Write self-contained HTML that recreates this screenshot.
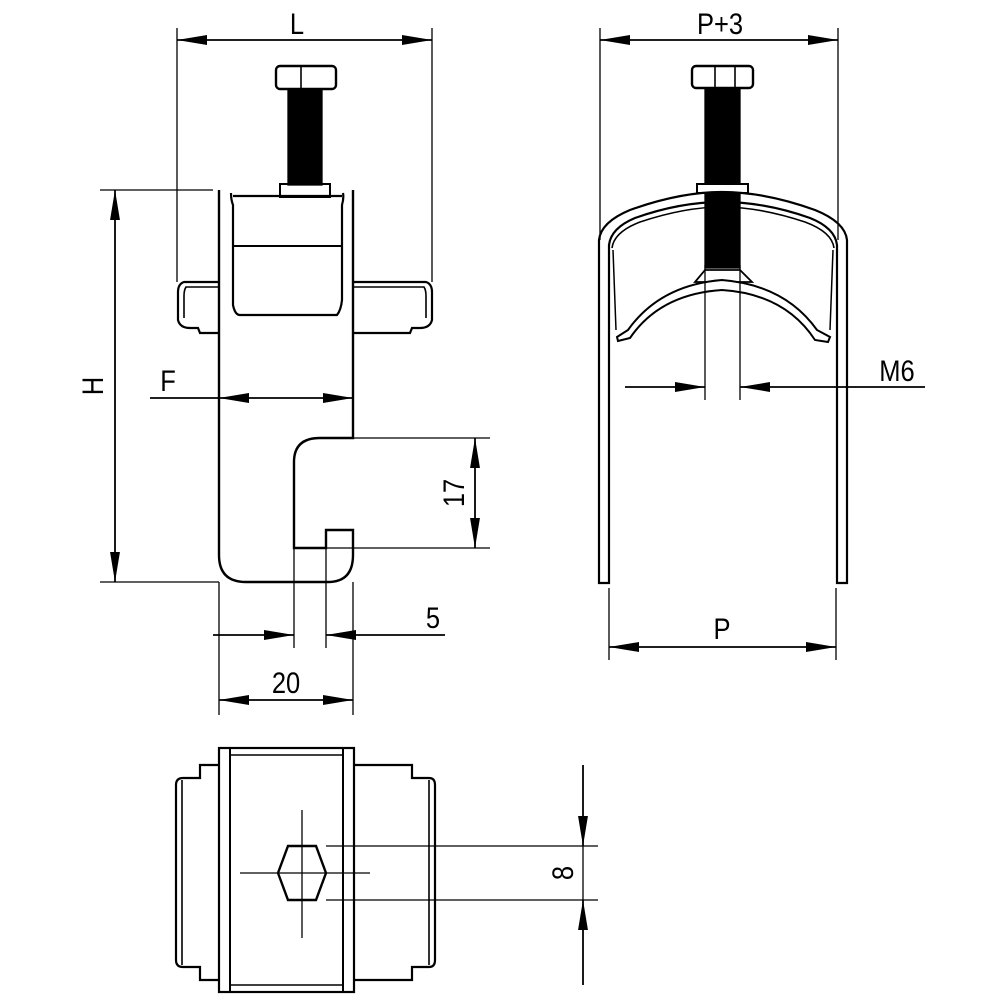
<!DOCTYPE html>
<html><head><meta charset="utf-8"><style>html,body{margin:0;padding:0;background:#fff}svg{display:block}</style></head><body>
<svg width="1000" height="1000" viewBox="0 0 1000 1000" xmlns="http://www.w3.org/2000/svg" font-family="Liberation Sans, sans-serif">
<defs>
<marker id="a" viewBox="0 0 30 10" refX="30" refY="5" markerWidth="30" markerHeight="11" markerUnits="userSpaceOnUse" orient="auto-start-reverse" preserveAspectRatio="none"><path d="M0,0.5 L30,5 L0,9.5z" fill="#000"/></marker>
</defs>
<g fill="none" stroke="#000" stroke-width="1.3">
<line x1="177" y1="28" x2="177" y2="282"/><line x1="432" y1="28" x2="432" y2="282"/>
<line x1="177" y1="40" x2="432" y2="40" marker-start="url(#a)" marker-end="url(#a)" stroke-width="1.8"/>
<rect x="276" y="66" width="60" height="23" rx="4" stroke-width="2.4"/>
<line x1="301" y1="66" x2="301" y2="89" stroke-width="1.6"/>
<rect x="288" y="89" width="34" height="96" fill="#000"/>
<rect x="280" y="184" width="50" height="13" stroke-width="2"/>
<path d="M219,190 L219,555 Q219,582 246,582 L328,582 Q353,582 353,555 L353,530 L326,530 L326,548 L294,548 L294,462 Q294,438 320,438 L353,438 L353,190" stroke-width="2.4"/>
<path d="M231,193 Q231,200 233,205 L233,305 Q235,315 240,315 L337,315 Q341,310 342,300 L342,205 Q344,198 343,193" stroke-width="2.2"/>
<line x1="233" y1="196" x2="342" y2="196" stroke-width="2.2"/>
<line x1="233" y1="246" x2="342" y2="246" stroke-width="2"/>
<path d="M219,282 L184,282 Q178,284 178,292 L178,320 Q180,328 190,328 L198,328 L200,333 L219,333" stroke-width="2.2"/>
<path d="M219,287 L186,287 Q184,290 184,296 L184,318" stroke-width="1.6"/>
<path d="M353,282 L426,282 Q432,284 432,292 L432,320 Q430,328 420,328 L412,328 L410,333 L353,333" stroke-width="2.2"/>
<path d="M353,287 L424,287 Q426,290 426,296 L426,318" stroke-width="1.6"/>
<line x1="100" y1="190" x2="213" y2="190"/><line x1="100" y1="582" x2="219" y2="582"/>
<line x1="115" y1="190" x2="115" y2="582" marker-start="url(#a)" marker-end="url(#a)" stroke-width="1.8"/>
<line x1="150" y1="398" x2="219" y2="398" stroke-width="1.8"/>
<line x1="219" y1="398" x2="353" y2="398" marker-start="url(#a)" marker-end="url(#a)" stroke-width="1.8"/>
<line x1="353" y1="438" x2="490" y2="438"/><line x1="326" y1="548" x2="490" y2="548"/>
<line x1="475" y1="438" x2="475" y2="548" marker-start="url(#a)" marker-end="url(#a)" stroke-width="1.8"/>
<line x1="294" y1="548" x2="294" y2="648"/><line x1="326" y1="548" x2="326" y2="648"/>
<line x1="213" y1="635" x2="294" y2="635" marker-end="url(#a)" stroke-width="1.8"/>
<line x1="445" y1="635" x2="326" y2="635" marker-end="url(#a)" stroke-width="1.8"/>
<line x1="219" y1="582" x2="219" y2="715"/><line x1="353" y1="582" x2="353" y2="715"/>
<line x1="219" y1="700" x2="353" y2="700" marker-start="url(#a)" marker-end="url(#a)" stroke-width="1.8"/>

<line x1="600" y1="28" x2="600" y2="240"/><line x1="838" y1="28" x2="838" y2="240"/>
<line x1="600" y1="40" x2="838" y2="40" marker-start="url(#a)" marker-end="url(#a)" stroke-width="1.8"/>
<rect x="692" y="66" width="61" height="22" rx="4" stroke-width="2.4"/>
<line x1="715" y1="66" x2="715" y2="88" stroke-width="1.6"/><line x1="735" y1="66" x2="735" y2="88" stroke-width="1.6"/>
<rect x="705" y="88" width="35" height="180" fill="#000"/>
<rect x="697" y="184" width="51" height="9" fill="#fff" stroke-width="2"/>
<path d="M599,583 L599,240 Q601,222 630,210 Q680,192 722,192 Q765,192 815,210 Q845,222 847,240 L847,583 L837,583 L837,245 Q835,228 810,218 Q765,202 722,202 Q680,202 635,218 Q611,228 609,245 L609,583 Z" stroke-width="2.2"/>
<path d="M612,248 Q614,232 640,222 Q685,207 722,207 Q760,207 805,222 Q832,232 834,248" stroke-width="1.6"/>
<line x1="613" y1="250" x2="616" y2="330" stroke-width="1.5"/><line x1="833" y1="250" x2="830" y2="330" stroke-width="1.5"/>
<path d="M705,270 L740,270 L752,282 L695,282 Z" stroke-width="1.8" fill="#fff"/>
<path d="M617,337 L628,330 Q660,285 722,280 Q785,285 817,330 L830,337 L828,342 L815,340 Q785,294 722,290 Q660,294 630,338 L618,341 Z" stroke-width="2" fill="#fff"/>
<line x1="705" y1="265" x2="705" y2="400"/><line x1="740" y1="265" x2="740" y2="400"/>
<line x1="625" y1="387" x2="705" y2="387" marker-end="url(#a)" stroke-width="1.8"/>
<line x1="925" y1="387" x2="740" y2="387" marker-end="url(#a)" stroke-width="1.8"/>
<line x1="609" y1="588" x2="609" y2="660"/><line x1="836" y1="588" x2="836" y2="660"/>
<line x1="609" y1="647" x2="836" y2="647" marker-start="url(#a)" marker-end="url(#a)" stroke-width="1.8"/>

<rect x="219" y="748" width="135" height="244" stroke-width="2.2"/>
<line x1="230" y1="748" x2="230" y2="992" stroke-width="2"/><line x1="343" y1="748" x2="343" y2="992" stroke-width="2"/>
<line x1="230" y1="755" x2="343" y2="755" stroke-width="1.6"/><line x1="230" y1="985" x2="343" y2="985" stroke-width="1.6"/>
<path d="M219,765 L200,765 L200,778 L183,778 Q176,778 176,785 L176,960 Q176,967 183,967 L200,967 L200,980 L219,980" stroke-width="2.2"/>
<line x1="182" y1="780" x2="182" y2="965" stroke-width="1.6"/>
<path d="M354,765 L412,765 L412,778 L429,778 Q435,778 435,785 L435,960 Q435,967 429,967 L412,967 L412,980 L354,980" stroke-width="2.2"/>
<line x1="429" y1="780" x2="429" y2="965" stroke-width="1.6"/>
<path d="M288,846 L316,846 L326,873 L316,900 L288,900 L278,873 Z" stroke-width="2.4"/>
<line x1="240" y1="873" x2="370" y2="873"/><line x1="302" y1="810" x2="302" y2="938"/>
<line x1="326" y1="846" x2="598" y2="846"/><line x1="326" y1="900" x2="598" y2="900"/>
<line x1="583" y1="765" x2="583" y2="846" marker-end="url(#a)" stroke-width="1.8"/>
<line x1="583" y1="985" x2="583" y2="900" marker-end="url(#a)" stroke-width="1.8"/>
<line x1="583" y1="846" x2="583" y2="900"/>
</g>
<g font-size="30" fill="#000">
<text transform="translate(297,34) scale(0.85,1)" text-anchor="middle">L</text>
<text transform="translate(720,34) scale(0.85,1)" text-anchor="middle">P+3</text>
<text transform="translate(168,391) scale(0.85,1)" text-anchor="middle">F</text>
<text transform="translate(897,381) scale(0.85,1)" text-anchor="middle">M6</text>
<text transform="translate(722,639) scale(0.85,1)" text-anchor="middle">P</text>
<text transform="translate(433,628) scale(0.85,1)" text-anchor="middle">5</text>
<text transform="translate(286,693) scale(0.85,1)" text-anchor="middle">20</text>
<text transform="translate(103,386) rotate(-90) scale(0.85,1)" text-anchor="middle">H</text>
<text transform="translate(464,493) rotate(-90) scale(0.85,1)" text-anchor="middle">17</text>
<text transform="translate(573,873) rotate(-90) scale(0.85,1)" text-anchor="middle">8</text>
</g>
</svg>
</body></html>
